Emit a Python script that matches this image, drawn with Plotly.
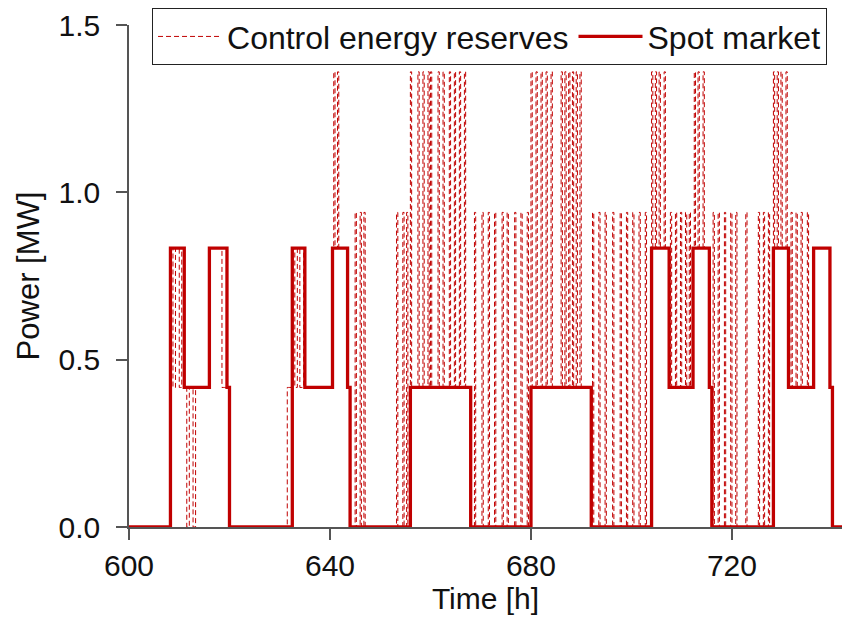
import numpy as np
import plotly.graph_objects as go

# ---------------- data ----------------
# Spot market schedule (step function): change times [h] and value after change [MW]
spot_t = [600, 608.25, 611, 616, 619.5, 620, 632.5, 635, 640.5, 643.5, 644,
          656, 668, 680, 692, 704, 707.5, 712.25, 715.5, 716,
          728.25, 731.25, 736.25, 739.5, 740, 744]
spot_v = [0, 0.833, 0.417, 0.833, 0.417, 0, 0.833, 0.417, 0.833, 0.417, 0,
          0.417, 0, 0.417, 0, 0.833, 0.417, 0.833, 0.417, 0,
          0.833, 0.417, 0.833, 0.417, 0, 0]

# Control energy reserves: deviations from the spot schedule (quarter-hour steps)
ctrl_override = [  # (start, end, value)
    (608.75, 609.25, 0.417), (610.0, 610.5, 0.417),
    (611.5, 612.0, 0.0), (612.75, 613.25, 0.0),
    (618.5, 620.0, 0.417),
    (631.5, 632.5, 0.417),
    (633.0, 633.5, 0.417), (634.0, 634.75, 0.417),
]
ctrl_high_level = 1.36
ctrl_high_starts = [640.75, 641.5,
                    656.0, 657.5, 658.5, 659.5, 660.0, 661.5, 662.5, 663.75, 664.75, 665.75, 666.75,
                    680.0, 681.0, 682.0, 683.0, 684.0,
                    686.0, 686.75, 687.5, 688.25, 689.0, 689.75,
                    704.0, 704.75, 705.5, 706.5,
                    712.5, 713.25, 714.25,
                    728.25, 729.0, 729.75, 730.75]
ctrl_mid_level = 0.94
ctrl_mid_starts = [645.0, 646.0, 646.75,
                   653.25, 654.5, 655.25,
                   668.75, 670.25, 671.5, 672.75, 674.25, 675.25, 676.75, 678.0, 679.25,
                   692.25, 693.5, 694.75, 696.25, 697.75, 699.0, 700.25, 701.5, 702.75,
                   707.75, 708.75, 709.75, 710.75, 711.5,
                   716.25, 717.25, 718.5, 719.75, 720.75, 722.75,
                   725.25, 726.25, 727.25,
                   731.75, 732.75, 733.75, 735.0]
spike_width = 0.25
step = 0.25

# ---------------- build control series on quarter-hour grid ----------------
t_grid = np.round(np.arange(600, 744 + step / 2, step), 2)
idx = np.searchsorted(np.array(spot_t), t_grid, side="right") - 1
ctrl = np.array(spot_v)[idx].astype(float)
for s, e, v in ctrl_override:
    ctrl[(t_grid >= s - 1e-9) & (t_grid < e - 1e-9)] = v
for s in ctrl_mid_starts:
    ctrl[(t_grid >= s - 1e-9) & (t_grid < s + spike_width - 1e-9)] = ctrl_mid_level
for s in ctrl_high_starts:
    ctrl[(t_grid >= s - 1e-9) & (t_grid < s + spike_width - 1e-9)] = ctrl_high_level

RED = "#C00000"
FONT = "Liberation Sans, Arial, sans-serif"

fig = go.Figure()
fig.add_trace(go.Scatter(
    x=t_grid, y=ctrl, mode="lines", line_shape="hv",
    line=dict(color=RED, width=1, dash="5px,3px"),
    name="Control energy reserves"))
fig.add_trace(go.Scatter(
    x=spot_t, y=spot_v, mode="lines", line_shape="hv",
    line=dict(color=RED, width=3.3),
    name="Spot market"))

axis_common = dict(
    showline=True, linecolor="#555555", linewidth=1.5,
    ticks="outside", ticklen=11, tickwidth=1.5, tickcolor="#555555",
    showgrid=False, zeroline=False,
    tickfont=dict(family=FONT, size=30, color="#111111"),
)
fig.update_layout(
    width=842, height=623,
    margin=dict(l=129, r=0, t=25, b=96),
    paper_bgcolor="white", plot_bgcolor="white",
    font=dict(family=FONT, color="#111111"),
    xaxis=dict(range=[600, 741.9], tickvals=[600, 640, 680, 720],
               title=dict(text="Time [h]", font=dict(family=FONT, size=30), standoff=6),
               ticklabelstandoff=0, **axis_common),
    yaxis=dict(range=[0, 1.5], tickvals=[0, 0.5, 1.0, 1.5], tickformat=".1f",
               title=dict(text="Power [MW]", font=dict(family=FONT, size=31), standoff=10),
               ticklabelstandoff=10, **axis_common),
    legend=dict(orientation="h", x=0.032, y=1.034, xanchor="left", yanchor="top",
                bgcolor="white", bordercolor="#222222", borderwidth=1.2,
                font=dict(family=FONT, size=32, color="#111111"),
                itemwidth=64, tracegroupgap=0),
    showlegend=True,
)
fig.write_html("out.html")
